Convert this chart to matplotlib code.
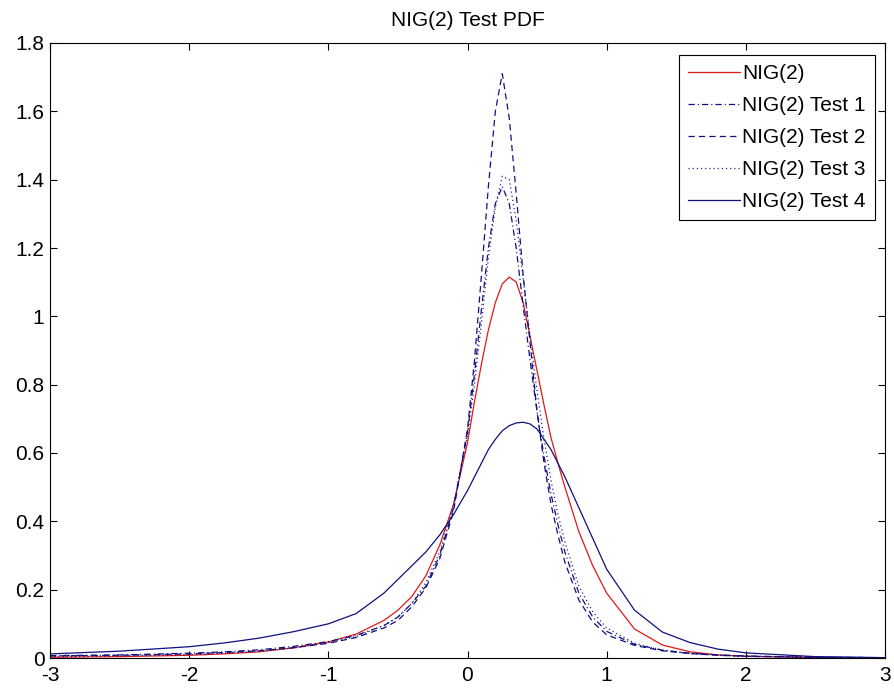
import matplotlib
matplotlib.use("Agg")
import matplotlib.pyplot as plt

plt.rcParams['font.family'] = ['Liberation Sans', 'DejaVu Sans']
plt.rcParams['lines.scale_dashes'] = False

x = [-3, -2.5, -2, -1.75, -1.5, -1.25, -1, -0.8, -0.6, -0.5, -0.4, -0.3, -0.2, -0.1,
     0, 0.05, 0.1, 0.15, 0.2, 0.25, 0.3, 0.35, 0.4, 0.45, 0.5, 0.55, 0.6, 0.65, 0.7,
     0.8, 0.9, 1.0, 1.2, 1.4, 1.6, 1.8, 2.0, 2.5, 3.0]

nig2 = [0.002, 0.004, 0.008, 0.012, 0.018, 0.03, 0.047, 0.07, 0.11, 0.14, 0.18, 0.24, 0.33, 0.45,
        0.63, 0.75, 0.86, 0.96, 1.04, 1.095, 1.115, 1.10, 1.04, 0.94, 0.84, 0.74, 0.645, 0.57, 0.50,
        0.37, 0.27, 0.19, 0.085, 0.038, 0.018, 0.009, 0.005, 0.001, 0.0]

test1 = [0.007, 0.009, 0.014, 0.018, 0.024, 0.034, 0.048, 0.066, 0.095, 0.12, 0.16, 0.21, 0.30, 0.44,
         0.66, 0.83, 1.02, 1.20, 1.33, 1.38, 1.33, 1.20, 1.03, 0.87, 0.72, 0.59, 0.48, 0.39, 0.31,
         0.19, 0.12, 0.078, 0.04, 0.023, 0.014, 0.009, 0.006, 0.002, 0.001]

test2 = [0.006, 0.008, 0.012, 0.016, 0.021, 0.03, 0.043, 0.06, 0.088, 0.11, 0.15, 0.205, 0.29, 0.43,
         0.67, 0.87, 1.12, 1.38, 1.60, 1.71, 1.58, 1.36, 1.12, 0.92, 0.72, 0.57, 0.45, 0.36, 0.28,
         0.17, 0.105, 0.068, 0.037, 0.021, 0.013, 0.008, 0.005, 0.002, 0.001]

test3 = [0.004, 0.006, 0.01, 0.014, 0.02, 0.029, 0.045, 0.063, 0.095, 0.12, 0.16, 0.22, 0.31, 0.45,
         0.65, 0.80, 0.98, 1.17, 1.32, 1.41, 1.40, 1.28, 1.11, 0.94, 0.78, 0.64, 0.52, 0.42, 0.34,
         0.21, 0.135, 0.088, 0.043, 0.023, 0.013, 0.008, 0.005, 0.002, 0.001]

test4 = [0.012, 0.02, 0.033, 0.044, 0.058, 0.077, 0.10, 0.13, 0.19, 0.23, 0.27, 0.31, 0.36, 0.42,
         0.49, 0.53, 0.57, 0.61, 0.64, 0.665, 0.68, 0.688, 0.69, 0.685, 0.67, 0.64, 0.61, 0.57, 0.53,
         0.44, 0.35, 0.26, 0.14, 0.076, 0.045, 0.026, 0.015, 0.004, 0.001]

labels = ['NIG(2)', 'NIG(2) Test 1', 'NIG(2) Test 2', 'NIG(2) Test 3', 'NIG(2) Test 4']
xticks = [-3, -2, -1, 0, 1, 2, 3]
yticks = [0, 0.2, 0.4, 0.6, 0.8, 1, 1.2, 1.4, 1.6, 1.8]
ytick_labels = ['0', '0.2', '0.4', '0.6', '0.8', '1', '1.2', '1.4', '1.6', '1.8']

W, H = 894, 693
fig = plt.figure(figsize=(W / 100, H / 100), dpi=100)
ax = fig.add_axes([50 / W, (H - 658) / H, (885 - 50) / W, (658 - 43) / H])

blue = '#10107e'
lw = 0.9
ax.plot(x, nig2, color='#e01818', lw=lw, label=labels[0])
ax.plot(x, test1, color=blue, lw=lw, dashes=(4.5, 2.2, 0.8, 2.2), label=labels[1])
ax.plot(x, test2, color=blue, lw=lw, dashes=(4.5, 3.0), label=labels[2])
ax.plot(x, test3, color=blue, lw=lw, dashes=(0.8, 2.2), label=labels[3])
ax.plot(x, test4, color=blue, lw=lw, label=labels[4])

ax.set_xlim(-3, 3)
ax.set_ylim(0, 1.8)
ax.set_xticks(xticks)
ax.set_xticklabels([str(t) for t in xticks])
ax.set_yticks(yticks)
ax.set_yticklabels(ytick_labels)
ax.tick_params(axis='both', direction='in', length=5, width=0.8, labelsize=15, top=True, right=True,
               labeltop=False, labelright=False)
ax.tick_params(axis='x', pad=6)
ax.tick_params(axis='y', pad=4)
for s in ax.spines.values():
    s.set_linewidth(0.8)
ax.set_title('NIG(2) Test PDF', fontsize=15, pad=12)

leg = ax.legend(loc='upper right', bbox_to_anchor=(875 / W, 1 - 55 / H),
                bbox_transform=fig.transFigure, borderaxespad=0, fontsize=15,
                handlelength=2.5, handletextpad=0.1, labelspacing=0.62,
                borderpad=0.45, fancybox=False, framealpha=1, edgecolor='black')
leg.get_frame().set_linewidth(0.8)

fig.savefig('out.png', dpi=100)
